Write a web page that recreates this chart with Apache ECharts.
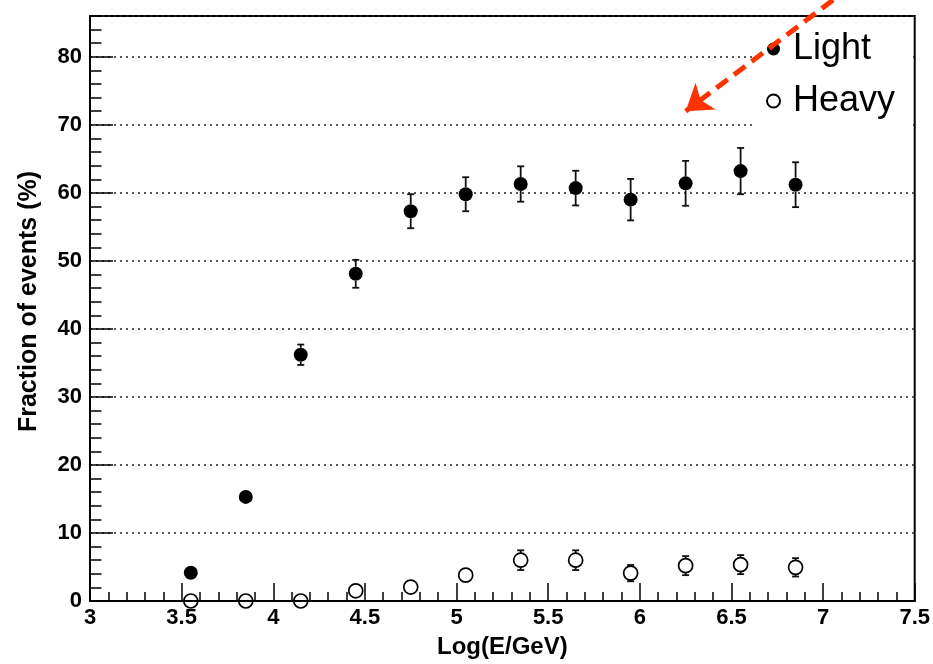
<!DOCTYPE html>
<html>
<head>
<meta charset="utf-8">
<script src="https://cdn.jsdelivr.net/npm/echarts@6/dist/echarts.min.js"></script>
<style>
  html, body { margin: 0; padding: 0; background: #fff; }
  #chart { width: 933px; height: 664px; }
</style>
</head>
<body>
<div id="chart"></div>
<script>
// ---- data ----
const energy   = [3.55, 3.85, 4.15, 4.45, 4.75, 5.05, 5.35, 5.65, 5.95, 6.25, 6.55, 6.85];
const light    = [4.15, 15.3, 36.2, 48.1, 57.3, 59.8, 61.3, 60.7, 59.0, 61.4, 63.2, 61.2];
const lightErr = [0.5, 0.7, 1.5, 2.05, 2.5, 2.5, 2.6, 2.55, 3.05, 3.3, 3.4, 3.3];
const heavy    = [0, 0, 0, 1.5, 2.05, 3.8, 6.0, 6.0, 4.1, 5.2, 5.35, 4.95];
const heavyErr = [0, 0, 0, 0.5, 0.6, 0.9, 1.45, 1.45, 1.2, 1.4, 1.4, 1.35];
const seriesNames = ['Light', 'Heavy'];
const xTicks = { min: 3, max: 7.5, step: 0.5 };
const yTicks = { min: 0, max: 86, step: 10, minorStep: 2 };
const arrowEnd = [6.25, 72];   // arrow tip position (data coords)

const FONT = '"Liberation Sans", Arial, Helvetica, sans-serif';

function errRender(radius) {
  return function (params, api) {
    const x = api.value(0), y = api.value(1), e = api.value(2);
    const c = api.coord([x, y]);
    const top = api.coord([x, y + e])[1];
    const bot = api.coord([x, y - e])[1];
    const st = { stroke: '#111', lineWidth: 1.8 };
    const cap = 3.5;
    const children = [];
    if (c[1] - top > radius) {
      children.push({ type: 'line', shape: { x1: c[0], y1: c[1] - radius, x2: c[0], y2: top }, style: st });
      children.push({ type: 'line', shape: { x1: c[0] - cap, y1: top, x2: c[0] + cap, y2: top }, style: st });
    }
    if (bot - c[1] > radius) {
      children.push({ type: 'line', shape: { x1: c[0], y1: c[1] + radius, x2: c[0], y2: bot }, style: st });
      children.push({ type: 'line', shape: { x1: c[0] - cap, y1: bot, x2: c[0] + cap, y2: bot }, style: st });
    }
    return { type: 'group', children: children };
  };
}

const chart = echarts.init(document.getElementById('chart'), null, { renderer: 'canvas' });

const option = {
  animation: false,
  backgroundColor: '#fff',
  textStyle: { fontFamily: FONT },
  grid: {
    left: 90, right: 18, top: 16, bottom: 61,
    show: true, borderColor: '#000', borderWidth: 2, backgroundColor: 'transparent'
  },
  legend: {
    data: seriesNames,
    orient: 'vertical',
    left: 752, top: 17,
    padding: [14, 18, 12, 14],
    itemGap: 16,
    itemWidth: 13, itemHeight: 13,
    backgroundColor: '#fff',
    textStyle: { fontSize: 36, color: '#000', fontFamily: FONT, padding: [0, 0, 0, 8] },
    selectedMode: false
  },
  xAxis: {
    type: 'value',
    min: xTicks.min, max: xTicks.max, interval: xTicks.step,
    name: 'Log(E/GeV)',
    nameLocation: 'middle', nameGap: 34,
    nameTextStyle: { fontSize: 24, fontWeight: 'bold', color: '#000', fontFamily: FONT },
    axisLine: { show: true, onZero: false, lineStyle: { color: '#000', width: 2 } },
    axisTick: { show: true, inside: true, length: 18, lineStyle: { color: '#000', width: 1.5 } },
    minorTick: { show: true, splitNumber: 5, length: 9, lineStyle: { color: '#000', width: 1.5 } },
    axisLabel: { fontSize: 22, fontWeight: 'bold', color: '#000', margin: 6, fontFamily: FONT },
    splitLine: { show: false }
  },
  yAxis: [
    {
      type: 'value',
      position: 'left',
      min: yTicks.min, max: yTicks.max, interval: yTicks.step,
      name: 'Fraction of events (%)',
      nameLocation: 'middle', nameGap: 48,
      nameTextStyle: { fontSize: 25, fontWeight: 'bold', color: '#000', fontFamily: FONT, padding: [0, 0, 0, 14] },
      axisLine: { show: true, onZero: false, lineStyle: { color: '#000', width: 2 } },
      axisTick: { show: true, inside: true, length: 23, lineStyle: { color: '#000', width: 1.5 } },
      axisLabel: { fontSize: 22, fontWeight: 'bold', color: '#000', margin: 8, showMaxLabel: false, fontFamily: FONT },
      splitLine: { show: true, lineStyle: { color: '#222', width: 1.5, type: [2, 4] } }
    },
    {
      type: 'value',
      position: 'left',
      offset: 0,
      min: yTicks.min, max: yTicks.max, interval: yTicks.minorStep,
      axisLine: { show: false },
      axisTick: { show: true, inside: true, length: 11.5, lineStyle: { color: '#000', width: 1.5 } },
      axisLabel: { show: false },
      splitLine: { show: false }
    }
  ],
  series: [
    {
      type: 'custom',
      name: 'LightErr',
      renderItem: errRender(7),
      data: energy.map((x, i) => [x, light[i], lightErr[i]]),
      encode: { x: 0, y: 1 },
      silent: true,
      z: 3
    },
    {
      type: 'custom',
      name: 'HeavyErr',
      renderItem: errRender(7),
      data: energy.map((x, i) => [x, heavy[i], heavyErr[i]]),
      encode: { x: 0, y: 1 },
      silent: true,
      z: 3
    },
    {
      type: 'scatter',
      name: seriesNames[0],
      data: energy.map((x, i) => [x, light[i]]),
      symbol: 'circle',
      symbolSize: 14,
      itemStyle: { color: '#000', opacity: 1 },
      clip: false,
      silent: true,
      z: 4
    },
    {
      type: 'scatter',
      name: seriesNames[1],
      data: energy.map((x, i) => [x, heavy[i]]),
      symbol: 'circle',
      symbolSize: 14,
      itemStyle: { color: 'rgba(255,255,255,0)', borderColor: '#000', borderWidth: 1.7, opacity: 1 },
      clip: false,
      silent: true,
      z: 4
    },
    {
      type: 'line',
      name: 'arrow',
      data: [],
      clip: false,
      silent: true,
      markLine: {
        silent: true,
        symbol: ['none', 'arrow'],
        symbolSize: 25,
        label: { show: false },
        emphasis: { disabled: true },
        lineStyle: { color: '#ff3300', width: 5, type: [14, 8], opacity: 1 },
        data: [[{ x: 833, y: 0 }, { coord: arrowEnd }]]
      }
    }
  ]
};

chart.setOption(option);
</script>
</body>
</html>
